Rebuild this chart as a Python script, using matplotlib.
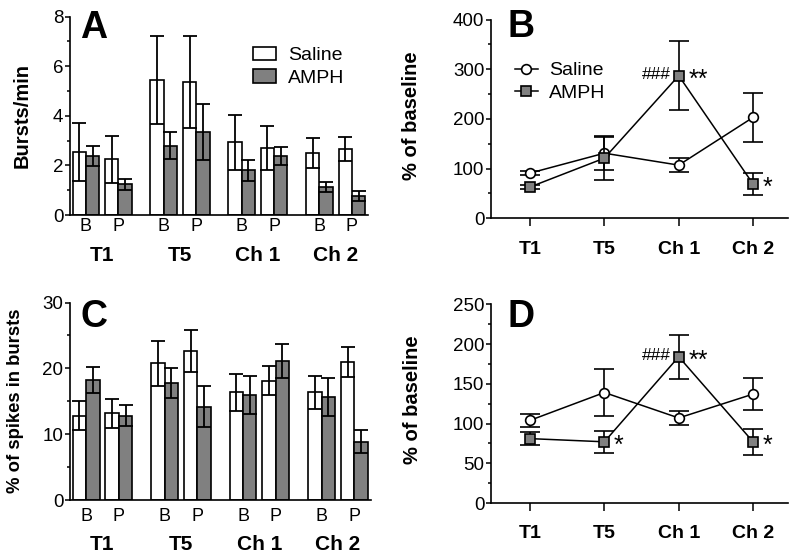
import matplotlib
matplotlib.use('Agg')
import matplotlib.pyplot as plt
from matplotlib.patches import Patch
from matplotlib.lines import Line2D
from matplotlib.ticker import MultipleLocator

plt.rcParams['font.family'] = ['Liberation Sans', 'DejaVu Sans']

W, H = 800, 556
GRAY = '#808080'

groups = ['T1', 'T5', 'Ch 1', 'Ch 2']
phases = ['B', 'P']

# panel A, bursts/min, order T1 B, T1 P, T5 B, T5 P, ...
sal_a = [2.55, 2.24, 5.44, 5.36, 2.93, 2.70, 2.49, 2.65]
sal_a_err = [1.18, 0.95, 1.78, 1.86, 1.10, 0.89, 0.60, 0.48]
amph_a = [2.38, 1.24, 2.80, 3.36, 1.80, 2.39, 1.13, 0.78]
amph_a_err = [0.42, 0.23, 0.53, 1.13, 0.43, 0.36, 0.20, 0.20]

# panel C, % of spikes in bursts
sal_c = [12.8, 13.2, 20.8, 22.6, 16.4, 18.1, 16.4, 21.0]
sal_c_err = [2.2, 2.2, 3.4, 3.2, 2.8, 2.2, 2.5, 2.3]
amph_c = [18.2, 12.8, 17.8, 14.2, 16.0, 21.1, 15.7, 8.9]
amph_c_err = [2.0, 1.6, 2.3, 3.1, 2.85, 2.6, 2.9, 1.8]

# panel B, % of baseline (bursts/min)
sal_b = [91, 131, 107, 203]
sal_b_err = [4, 33, 14, 49]
amph_b = [63, 121, 287, 69]
amph_b_err = [5, 44, 70, 22]

# panel D, % of baseline (% spikes in bursts)
sal_d = [104, 139, 107, 137]
sal_d_err = [8, 30, 8.5, 20.5]
amph_d = [81, 77, 184, 77]
amph_d_err = [8, 13.5, 28, 16.5]

# significance marks: (point index, text, side)
marks_b = [(2, '###', 'left'), (2, '**', 'right'), (3, '*', 'right')]
marks_d = [(1, '*', 'right'), (2, '###', 'left'), (2, '**', 'right'), (3, '*', 'right')]

GROUP_STEP = 5.85
P_OFFSET = 2.44


def px_axes(fig, left, top, right, bottom):
    return fig.add_axes([left / W, 1 - bottom / H, (right - left) / W, (bottom - top) / H])


def style_axes(ax, ymax, major, minor):
    for s in ['top', 'right']:
        ax.spines[s].set_visible(False)
    for s in ['left', 'bottom']:
        ax.spines[s].set_linewidth(1.2)
    ax.set_ylim(0, ymax)
    ax.yaxis.set_major_locator(MultipleLocator(major))
    ax.yaxis.set_minor_locator(MultipleLocator(minor))
    ax.tick_params(axis='y', which='major', length=3.8, width=1.1, labelsize=13.5, pad=1)
    ax.tick_params(axis='y', which='minor', length=2.3, width=1.1)


def bar_panel(ax, sal, sal_err, amph, amph_err, ymax, major, minor, lab_pad, grp_off):
    centers = []
    for g in range(len(groups)):
        for p in range(len(phases)):
            centers.append(g * GROUP_STEP + p * P_OFFSET)
    ekw = dict(elinewidth=1.3, capthick=1.3, capsize=5, ecolor='black')
    ax.bar([c - 0.5 for c in centers], sal, width=1, yerr=sal_err, color='white',
           edgecolor='black', linewidth=1.2, error_kw=ekw, label='Saline')
    ax.bar([c + 0.5 for c in centers], amph, width=1, yerr=amph_err, color=GRAY,
           edgecolor='black', linewidth=1.2, error_kw=ekw, label='AMPH')
    style_axes(ax, ymax, major, minor)
    ax.set_xlim(-1.2, 21.2)
    ax.set_xticks(centers)
    ax.set_xticklabels(phases * len(groups))
    ax.tick_params(axis='x', length=0, labelsize=13, pad=lab_pad)
    for g, name in enumerate(groups):
        ax.annotate(name, xy=(g * GROUP_STEP + P_OFFSET / 2, 0), xycoords=('data', 'axes fraction'),
                    xytext=(0, -grp_off), textcoords='offset points',
                    ha='center', va='top', fontsize=15, fontweight='bold')


def line_panel(ax, sal, sal_err, amph, amph_err, ymax, major, minor, marks):
    x = list(range(len(groups)))
    ax.errorbar(x, sal, yerr=sal_err, fmt='none', ecolor='black', elinewidth=1.2,
                capsize=7, capthick=1.2, zorder=2)
    ax.plot(x, sal, '-o', color='black', lw=1.1, mfc='white', mec='black', mew=1.2, ms=7, zorder=3)
    ax.errorbar(x, amph, yerr=amph_err, fmt='none', ecolor='black', elinewidth=1.2,
                capsize=7, capthick=1.2, zorder=4)
    ax.plot(x, amph, '-s', color='black', lw=1.1, mfc=GRAY, mec='black', mew=1.2, ms=7.5, zorder=5)
    style_axes(ax, ymax, major, minor)
    ax.set_xlim(-0.525, 3.47)
    ax.set_xticks(x)
    ax.set_xticklabels(groups, fontweight='bold')
    ax.tick_params(axis='x', length=6, width=1.1, labelsize=14, pad=10)
    for i, txt, side in marks:
        if side == 'left':
            ax.annotate(txt, xy=(i, amph[i]), xytext=(-6, 1), textcoords='offset points',
                        ha='right', va='center', fontsize=12.5)
        else:
            ax.annotate(txt, xy=(i, amph[i]), xytext=(7, -3), textcoords='offset points',
                        ha='left', va='center', fontsize=18)


def main():
    fig = plt.figure(figsize=(W / 100, H / 100), dpi=100)

    ax_a = px_axes(fig, 70, 16.7, 368, 215)
    bar_panel(ax_a, sal_a, sal_a_err, amph_a, amph_a_err, 8, 2, 1, 2.2, 22.5)
    handles = [Patch(facecolor='white', edgecolor='black', linewidth=1.2, label='Saline'),
               Patch(facecolor=GRAY, edgecolor='black', linewidth=1.2, label='AMPH')]
    ax_a.legend(handles=handles, loc='upper left', bbox_to_anchor=(243 / W, 1 - 37 / H),
                bbox_transform=fig.transFigure, frameon=False, fontsize=14, borderpad=0,
                handlelength=1.2, handleheight=0.7, handletextpad=0.6, labelspacing=0.25)

    ax_b = px_axes(fig, 491, 19.5, 788, 218.3)
    line_panel(ax_b, sal_b, sal_b_err, amph_b, amph_b_err, 400, 100, 50, marks_b)
    lh = [Line2D([], [], color='black', lw=1.1, marker='o', mfc='white', mec='black', mew=1.2, ms=7),
          Line2D([], [], color='black', lw=1.1, marker='s', mfc=GRAY, mec='black', mew=1.2, ms=7.5)]
    ax_b.legend(lh, ['Saline', 'AMPH'], loc='upper left', bbox_to_anchor=(505 / W, 1 - 52 / H),
                bbox_transform=fig.transFigure, frameon=False, fontsize=14, borderpad=0,
                handlelength=1.2, handletextpad=0.55, labelspacing=0.25, numpoints=1)

    ax_c = px_axes(fig, 70, 302.5, 370.5, 500.3)
    bar_panel(ax_c, sal_c, sal_c_err, amph_c, amph_c_err, 30, 10, 5, 5.8, 25)

    ax_d = px_axes(fig, 491, 304.3, 788, 503)
    line_panel(ax_d, sal_d, sal_d_err, amph_d, amph_d_err, 250, 50, 25, marks_d)

    # panel letters
    for letter, x, y in [('A', 80, 10), ('B', 508, 9), ('C', 80, 299), ('D', 508, 299)]:
        fig.text(x / W, 1 - y / H, letter, fontsize=27, fontweight='bold', ha='left', va='top')

    # y labels
    fig.text(21.7 / W, 1 - 116 / H, 'Bursts/min', rotation=90, ha='center', va='center',
             fontsize=14.5, fontweight='bold')
    fig.text(411 / W, 1 - 116 / H, '% of baseline', rotation=90, ha='center', va='center',
             fontsize=14.5, fontweight='bold')
    fig.text(16 / W, 1 - 401 / H, '% of spikes in bursts', rotation=90, ha='center', va='center',
             fontsize=13.3, fontweight='bold')
    fig.text(413 / W, 1 - 400 / H, '% of baseline', rotation=90, ha='center', va='center',
             fontsize=14.5, fontweight='bold')

    fig.savefig('out.png', dpi=100)


if __name__ == '__main__':
    main()
